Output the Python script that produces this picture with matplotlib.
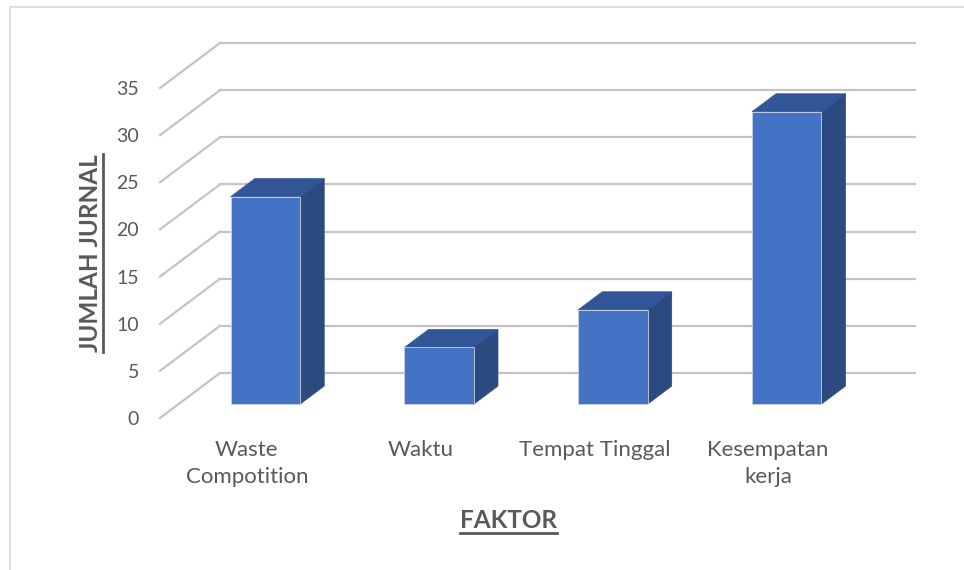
import numpy as np
import matplotlib
matplotlib.use('Agg')
from matplotlib import pyplot as plt
from matplotlib.patches import Polygon, Rectangle
from matplotlib.lines import Line2D

categories = ['Waste\nCompotition', 'Waktu', 'Tempat Tinggal', 'Kesempatan\nkerja']
values = [22, 6, 10, 31]
yticks = [0, 5, 10, 15, 20, 25, 30, 35]
xlabel = 'FAKTOR'
ylabel = 'JUMLAH JURNAL'

plt.rcParams['font.family'] = ['Lato', 'DejaVu Sans']

W, H = 964, 570
fig = plt.figure(figsize=(W/100, H/100), dpi=100)
fig.patch.set_facecolor('white')

# front plane of the pseudo 3d chart, pixel box from the reference
left, right, bottom, top = 160, 855, 418, 88
ax = fig.add_axes([left/W, 1 - bottom/H, (right-left)/W, (bottom-top)/H])
ax.set_xlim(-0.5, 3.5)
ax.set_ylim(0, 35)
for s in ax.spines.values():
    s.set_visible(False)
ax.set_facecolor('none')

# depth vector (front -> back wall) in data units
px_x = (right - left) / 4.0
px_y = (bottom - top) / 35.0
ddx = 60 / px_x
ddy = 45 / px_y

grid_c = '#c4c4c4'
x0, x1 = ax.get_xlim()
for v in yticks:
    ax.add_line(Line2D([x0, x0 + ddx], [v, v + ddy], color=grid_c, lw=1.6,
                       clip_on=False, zorder=1))
    ax.add_line(Line2D([x0 + ddx, x1 + ddx], [v + ddy, v + ddy], color=grid_c,
                       lw=1.6, clip_on=False, zorder=1))

# bars
bw = 0.40
f_front, f_back = 0.31, 0.71
c_front, c_side, c_top = '#4472c4', '#2b4a80', '#315596'
for i, v in enumerate(values):
    ox, oy = ddx * f_front, ddy * f_front
    bx, by = ddx * (f_back - f_front), ddy * (f_back - f_front)
    xl = i + ox - bw / 2
    xr = i + ox + bw / 2
    y0 = oy
    y1 = oy + v
    ax.add_patch(Polygon([[xr, y0], [xr + bx, y0 + by], [xr + bx, y1 + by], [xr, y1]],
                         closed=True, fc=c_side, ec='#2b4a80', lw=0.5, clip_on=False, zorder=3))
    ax.add_patch(Polygon([[xl, y1], [xr, y1], [xr + bx, y1 + by], [xl + bx, y1 + by]],
                         closed=True, fc=c_top, ec='#315596', lw=0.5, clip_on=False, zorder=3))
    ax.add_patch(Rectangle((xl, y0), bw, v, fc=c_front, ec='#c8d0e0', lw=0.6,
                           clip_on=False, zorder=4))

ax.set_yticks(yticks)
ax.set_xticks(range(len(categories)))
ax.set_xticklabels(categories, linespacing=1.45)
ax.tick_params(axis='both', length=0, colors='#595959')
ax.tick_params(axis='y', pad=15, labelsize=14)
ax.tick_params(axis='x', pad=16, labelsize=16)

txt_c = '#595959'
xl_t = fig.text(508/W, 1 - 520/H, xlabel, ha='center', va='center',
                fontsize=17.5, fontweight='bold', color=txt_c)
yl_t = fig.text(91/W, 1 - 253/H, ylabel, ha='center', va='center', rotation=90,
                fontsize=17.5, fontweight='bold', color=txt_c)

# underline for axis titles
fig.canvas.draw()
r = fig.canvas.get_renderer()
inv = fig.transFigure.inverted()
bb = xl_t.get_window_extent(r).transformed(inv)
fig.add_artist(Line2D([bb.x0, bb.x1], [bb.y0 - 0.002, bb.y0 - 0.002],
                      transform=fig.transFigure, color=txt_c, lw=2))
bb = yl_t.get_window_extent(r).transformed(inv)
fig.add_artist(Line2D([bb.x1 + 0.001, bb.x1 + 0.001], [bb.y0, bb.y1],
                      transform=fig.transFigure, color=txt_c, lw=2))

# chart border
fig.add_artist(Rectangle((10/W, -0.01), 1.0, 1 - 7/H + 0.01, transform=fig.transFigure,
                         fill=False, ec='#d9d9d9', lw=1.2))

fig.savefig('out.png', dpi=100, facecolor='white')
